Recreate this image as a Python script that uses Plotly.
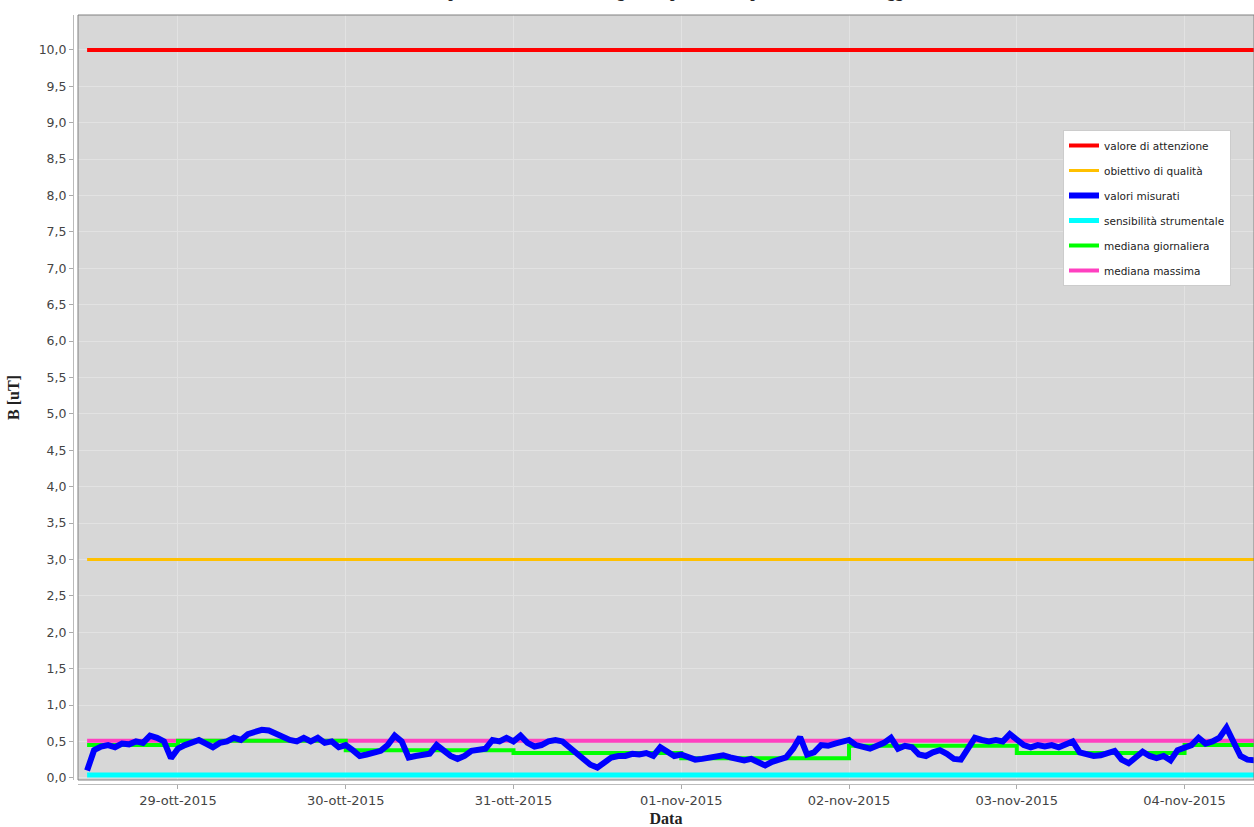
import pandas as pd
import plotly.graph_objects as go

# ---------------- data ----------------
start_time = "2015-10-28 11:00"

measured = [
    0.10, 0.38, 0.43, 0.45, 0.42, 0.47, 0.46, 0.50, 0.48, 0.58, 0.55, 0.50, 0.27,
    0.40, 0.45, 0.48, 0.52, 0.47, 0.42, 0.48, 0.50, 0.55, 0.52, 0.60, 0.63,
    0.66, 0.65, 0.60, 0.57, 0.52, 0.50, 0.55, 0.50, 0.55, 0.48, 0.50, 0.42,
    0.45, 0.38, 0.30, 0.32, 0.35, 0.37, 0.45, 0.58, 0.50, 0.28, 0.30, 0.32,
    0.33, 0.45, 0.38, 0.30, 0.26, 0.30, 0.37, 0.38, 0.40, 0.52, 0.50, 0.55,
    0.50, 0.58, 0.48, 0.43, 0.45, 0.50, 0.52, 0.50, 0.42, 0.33, 0.25, 0.18,
    0.14, 0.20, 0.28, 0.30, 0.30, 0.33, 0.32, 0.34, 0.30, 0.42, 0.35, 0.30,
    0.32, 0.28, 0.25, 0.26, 0.27, 0.28, 0.31, 0.28, 0.25, 0.24, 0.26, 0.22,
    0.17, 0.22, 0.25, 0.28, 0.40, 0.56, 0.32, 0.35, 0.45, 0.44, 0.47, 0.50,
    0.52, 0.45, 0.42, 0.40, 0.44, 0.48, 0.55, 0.40, 0.44, 0.42, 0.32, 0.30,
    0.35, 0.38, 0.33, 0.26, 0.25, 0.40, 0.55, 0.52, 0.50, 0.52, 0.50, 0.60,
    0.52, 0.45, 0.42, 0.45, 0.43, 0.45, 0.42, 0.45, 0.50, 0.35, 0.32, 0.30,
    0.31, 0.33, 0.37, 0.25, 0.20, 0.28, 0.36, 0.30, 0.27, 0.30, 0.24, 0.38,
    0.42, 0.45, 0.55, 0.47, 0.50, 0.55, 0.69, 0.50, 0.30, 0.25, 0.24,
]

median_days = ["2015-10-28 11:00", "2015-10-29 00:00", "2015-10-30 00:00", "2015-10-31 00:00",
               "2015-11-01 00:00", "2015-11-02 00:00", "2015-11-03 00:00", "2015-11-04 00:00"]
median_values = [0.45, 0.51, 0.38, 0.34, 0.27, 0.44, 0.34, 0.45]

attention_value = 10.0
quality_goal = 3.0
instrument_sensitivity = 0.04
max_median = 0.51

tick_dates = ["2015-10-29", "2015-10-30", "2015-10-31", "2015-11-01",
              "2015-11-02", "2015-11-03", "2015-11-04"]
tick_labels = ["29-ott-2015", "30-ott-2015", "31-ott-2015", "01-nov-2015",
               "02-nov-2015", "03-nov-2015", "04-nov-2015"]
y_ticks = [i * 0.5 for i in range(21)]

series_names = ["valore di attenzione", "obiettivo di qualità", "valori misurati",
                "sensibilità strumentale", "mediana giornaliera", "mediana massima"]

# ---------------- figure ----------------
times = pd.date_range(start_time, periods=len(measured), freq="h")
span = [times[0], times[-1]]
med_x = list(pd.to_datetime(median_days, format="%Y-%m-%d %H:%M")) + [times[-1]]
med_y = median_values + [median_values[-1]]

fig = go.Figure()

def hline(name, value, color, width, rank):
    return go.Scatter(x=span, y=[value, value], mode="lines", name=name,
                      line=dict(color=color, width=width),
                      legendgroup=name, legendrank=rank)

fig.add_trace(hline(series_names[0], attention_value, "#ff0000", 4, 1))
fig.add_trace(hline(series_names[1], quality_goal, "#ffc000", 3, 2))
fig.add_trace(hline(series_names[5], max_median, "#ff40c0", 4, 6))
fig.add_trace(go.Scatter(x=med_x, y=med_y, mode="lines", name=series_names[4],
                         line=dict(color="#00ff00", width=4, shape="hv"),
                         legendgroup=series_names[4], legendrank=5))
fig.add_trace(hline(series_names[3], instrument_sensitivity, "#00ffff", 5, 4))
fig.add_trace(go.Scatter(x=times, y=measured, mode="lines", name=series_names[2],
                         line=dict(color="#0000ff", width=6),
                         legendgroup=series_names[2], legendrank=3))

W, H = 1254, 827
ml, mr, mt, mb = 73, 0, 15, 43
pw = W - ml - mr
ph = H - mt - mb

fig.update_layout(
    width=W, height=H,
    margin=dict(l=ml, r=mr, t=mt, b=mb, pad=0),
    paper_bgcolor="white",
    plot_bgcolor="#d7d7d7",
    separators=",.",
    font=dict(family="DejaVu Sans", size=12, color="#444444"),
    title=dict(text="<b>Andamento temporale dell'induzione magnetica per l'intero periodo di monitoraggio</b>",
               x=0.5, xanchor="center", y=1.0, yref="container", yanchor="bottom",
               pad=dict(b=3),
               font=dict(family="Liberation Serif", size=16, color="#222222")),
    showlegend=True,
    legend=dict(x=(1063 - ml) / pw, y=1 - (130 - mt) / ph, xanchor="left", yanchor="top",
                bgcolor="white", bordercolor="#cccccc", borderwidth=1,
                font=dict(family="DejaVu Sans", size=10.5, color="#222222"),
                traceorder="grouped", tracegroupgap=6),
    xaxis=dict(
        type="date",
        domain=[5 / pw, 1],
        anchor="free", position=0,
        range=["2015-10-28 09:42", "2015-11-04 09:56"],
        tickmode="array", tickvals=tick_dates, ticktext=tick_labels,
        tickfont=dict(family="DejaVu Sans", size=13, color="#444444"),
        ticks="outside", ticklen=4, tickcolor="#aaaaaa",
        showline=True, linecolor="#bbbbbb", linewidth=1,
        showgrid=True, gridcolor="#e2e2e2", gridwidth=1,
        zeroline=False,
        title=dict(text="<b>Data</b>", standoff=6,
                   font=dict(family="Liberation Serif", size=16, color="#222222")),
    ),
    yaxis=dict(
        domain=[4 / ph, 1],
        anchor="free", position=0,
        range=[-0.03, 10.48],
        tickmode="array", tickvals=y_ticks, tickformat=".1f",
        tickfont=dict(family="DejaVu Sans", size=12.5, color="#444444"),
        ticks="outside", ticklen=4, tickcolor="#aaaaaa",
        showline=True, linecolor="#bbbbbb", linewidth=1,
        showgrid=True, gridcolor="#e2e2e2", gridwidth=1,
        zeroline=False,
        title=dict(text="<b>B [uT]</b>", standoff=14,
                   font=dict(family="Liberation Serif", size=16, color="#222222")),
    ),
    shapes=[dict(type="rect", xref="x domain", yref="y domain", x0=0, x1=1, y0=0, y1=1,
                 line=dict(color="#808080", width=1), fillcolor="rgba(0,0,0,0)", layer="above")],
)

fig.write_html("out.html",
               config={"displayModeBar": False},
               post_script="document.body.style.margin='0';document.body.style.overflow='hidden';")
